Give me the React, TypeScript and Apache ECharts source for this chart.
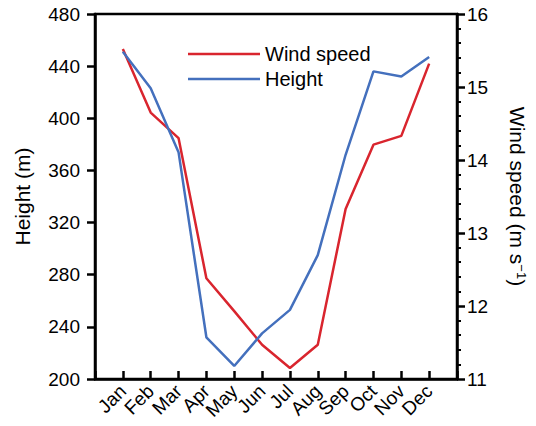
import React, { useEffect, useRef } from "react";
import * as echarts from "echarts";

const months = ["Jan", "Feb", "Mar", "Apr", "May", "Jun", "Jul", "Aug", "Sep", "Oct", "Nov", "Dec"];
const windSpeed = [15.52, 14.65, 14.3, 12.38, 11.93, 11.47, 11.15, 11.47, 13.33, 14.21, 14.33, 15.32];
const height = [451, 423, 374, 232, 210, 235, 253, 295, 372, 436, 432, 447];
const heightTicks = { min: 200, max: 480, interval: 40 };
const windTicks = { min: 11, max: 16, interval: 1 };

const FONT = "'Liberation Sans', Arial, Helvetica, sans-serif";
const RED = "#d9252e";
const BLUE = "#4470bd";

export default function App() {
  const ref = useRef<HTMLDivElement>(null);
  useEffect(() => {
    if (!ref.current) return;
    const chart = echarts.init(ref.current, undefined, { renderer: "svg" });
    const cats = ["", ...months, ""];
    chart.setOption({
      animation: false,
      textStyle: { fontFamily: FONT },
      grid: { left: 95, right: 76, top: 14, bottom: 47, show: true, borderColor: "#000", borderWidth: 2.5 },
      legend: {
        orient: "vertical",
        left: 183,
        top: 39,
        itemWidth: 72,
        itemHeight: 2.5,
        itemGap: 5,
        icon: "rect",
        textStyle: { fontSize: 20, color: "#000", fontFamily: FONT, lineHeight: 20 },
        data: ["Wind speed", "Height"],
      },
      xAxis: {
        type: "category",
        data: cats,
        boundaryGap: false,
        axisLine: { lineStyle: { color: "#000", width: 2.5 } },
        axisTick: { inside: true, length: 8, lineStyle: { color: "#000", width: 2.5 } },
        axisLabel: { rotate: 45, fontSize: 19, color: "#000", margin: 9, interval: 0, fontFamily: FONT },
        splitLine: { show: false },
      },
      yAxis: [
        {
          type: "value",
          position: "left",
          min: heightTicks.min,
          max: heightTicks.max,
          interval: heightTicks.interval,
          name: "Height (m)",
          nameLocation: "middle",
          nameGap: 62,
          nameTextStyle: { fontSize: 21, color: "#000", fontFamily: FONT },
          axisLine: { show: true, lineStyle: { color: "#000", width: 2.5 } },
          axisTick: { show: true, length: 8, lineStyle: { color: "#000", width: 2.5 } },
          axisLabel: { fontSize: 19, color: "#000", margin: 15, fontFamily: FONT },
          splitLine: { show: false },
        },
        {
          type: "value",
          position: "right",
          min: windTicks.min,
          max: windTicks.max,
          interval: windTicks.interval,
          name: "Wind speed (m s{sup|−1})",
          nameLocation: "middle",
          nameRotate: -90,
          nameGap: 49,
          nameTextStyle: {
            fontSize: 21,
            color: "#000",
            fontFamily: FONT,
            lineHeight: 22,
            rich: { sup: { fontSize: 13, verticalAlign: "top", lineHeight: 13, color: "#000", fontFamily: FONT } },
          },
          axisLine: { show: true, lineStyle: { color: "#000", width: 2.5 } },
          axisTick: { show: true, length: 8, lineStyle: { color: "#000", width: 2.5 } },
          minorTick: { show: true, splitNumber: 5, length: 4, lineStyle: { color: "#000", width: 2 } },
          axisLabel: { fontSize: 19, color: "#000", margin: 10, fontFamily: FONT },
          splitLine: { show: false },
        },
      ],
      series: [
        {
          name: "Wind speed",
          type: "line",
          yAxisIndex: 1,
          data: [null, ...windSpeed, null],
          symbol: "none",
          lineStyle: { color: RED, width: 2.5 },
          itemStyle: { color: RED },
        },
        {
          name: "Height",
          type: "line",
          yAxisIndex: 0,
          data: [null, ...height, null],
          symbol: "none",
          lineStyle: { color: BLUE, width: 2.5 },
          itemStyle: { color: BLUE },
        },
      ],
    });
    return () => chart.dispose();
  }, []);
  return <div ref={ref} style={{ width: 536, height: 426, position: "absolute", left: 0, top: 0 }} />;
}
